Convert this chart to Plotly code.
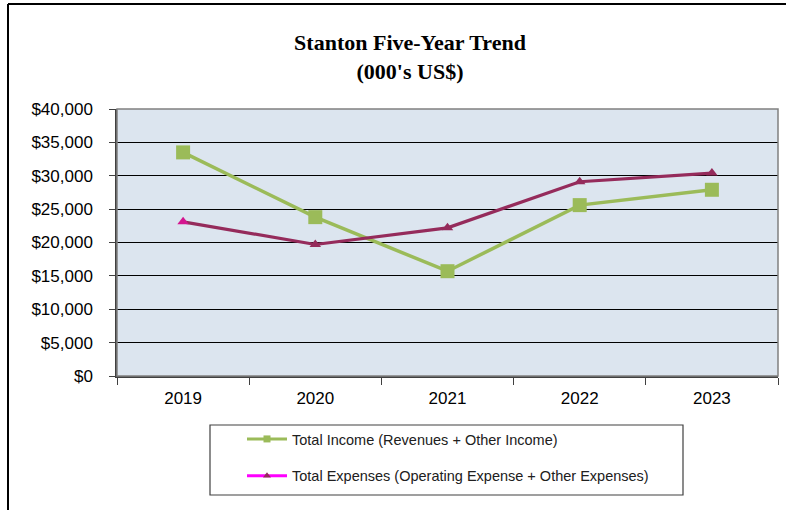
import plotly.graph_objects as go

years = ["2019", "2020", "2021", "2022", "2023"]
total_income = [33500, 23800, 15700, 25600, 27900]
total_expenses = [23100, 19700, 22200, 29100, 30400]
y_tick_vals = [0, 5000, 10000, 15000, 20000, 25000, 30000, 35000, 40000]
y_tick_text = ["$0", "$5,000", "$10,000", "$15,000", "$20,000",
               "$25,000", "$30,000", "$35,000", "$40,000"]

GREEN = "#9BBB59"
MAROON = "#952B5B"
MAGENTA = "#FF00FF"

W, H = 786, 510
L, R, T, B = 117, 8, 109, 134
pw, ph = W - L - R, H - T - B

def px(x):
    return (x - L) / pw

def py(y):
    return (H - B - y) / ph

fig = go.Figure()
fig.add_trace(go.Scatter(
    x=years, y=total_income, mode="lines+markers",
    line=dict(color=GREEN, width=3.5),
    marker=dict(symbol="square", size=14, color=GREEN),
    showlegend=False, cliponaxis=False))
fig.add_trace(go.Scatter(
    x=years, y=total_expenses, mode="lines+markers",
    line=dict(color=MAROON, width=3.2),
    marker=dict(symbol="triangle-up", size=10,
                color=["#D4168F", MAROON, MAROON, MAROON, MAROON]),
    showlegend=False, cliponaxis=False))
# legend entries
fig.add_trace(go.Scatter(
    x=[None], y=[None], mode="lines+markers", name="Total Income (Revenues + Other Income)",
    line=dict(color=GREEN, width=3), marker=dict(symbol="square", size=7, color=GREEN),
    legendgroup="a"))
fig.add_trace(go.Scatter(
    x=[None], y=[None], mode="lines+markers",
    name="Total Expenses (Operating Expense + Other Expenses)",
    line=dict(color=MAGENTA, width=3), marker=dict(symbol="triangle-up", size=7, color=MAROON),
    legendgroup="b"))

shapes = [
    dict(type="rect", xref="paper", yref="paper", x0=0, x1=1, y0=0, y1=1,
         line=dict(color="#808080", width=1.5), layer="above"),
    dict(type="line", xref="paper", yref="paper", x0=px(8), x1=px(790), y0=py(4), y1=py(4),
         line=dict(color="black", width=2)),
    dict(type="line", xref="paper", yref="paper", x0=px(8), x1=px(8), y0=py(4), y1=py(515),
         line=dict(color="black", width=2)),
    dict(type="rect", xref="paper", yref="paper", x0=px(210), x1=px(683), y0=py(425), y1=py(495),
         line=dict(color="#404040", width=1.2), fillcolor="white", layer="below"),
]

fig.update_layout(
    width=W, height=H,
    margin=dict(l=L, r=R, t=T, b=B),
    paper_bgcolor="white",
    plot_bgcolor="#DCE5EF",
    title=dict(text="<b>Stanton Five-Year Trend<br>(000's US$)</b>",
               font=dict(family="Liberation Serif, Times New Roman, serif", size=22, color="black"),
               x=410 / W, xanchor="center", y=1 - 50 / H, yanchor="middle", xref="container"),
    font=dict(family="Liberation Sans, Arial, sans-serif", color="black"),
    xaxis=dict(type="category", showline=True, linecolor="#404040", linewidth=1.5,
               ticks="outside", tickson="boundaries", ticklen=7, tickcolor="#404040",
               tickfont=dict(size=17), showgrid=False, range=[-0.5, 4.5],
               ticklabelstandoff=6),
    yaxis=dict(range=[0, 40000], tickmode="array", tickvals=y_tick_vals, ticktext=y_tick_text,
               showline=True, linecolor="#404040", linewidth=1.5,
               ticks="outside", ticklen=6, tickcolor="#404040",
               tickfont=dict(size=17), showgrid=True, gridcolor="black", gridwidth=1,
               zeroline=False, ticklabelstandoff=13),
    legend=dict(x=px(242), y=py(423), xanchor="left", yanchor="top",
                bgcolor="rgba(0,0,0,0)", borderwidth=0,
                font=dict(size=14.5, color="#202020"),
                traceorder="grouped", tracegroupgap=15, itemwidth=40),
    shapes=shapes,
)

fig.write_html("out.html", config={"displayModeBar": False},
               post_script="document.body.style.margin='0';")
